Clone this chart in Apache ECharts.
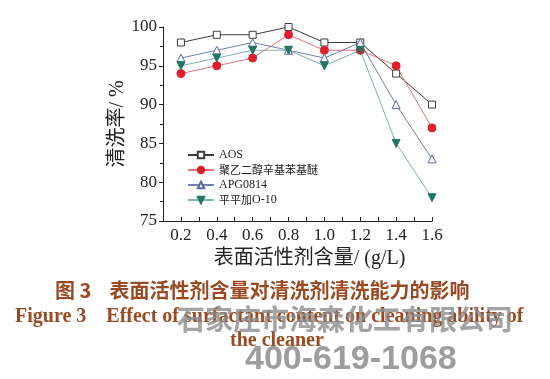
<!DOCTYPE html>
<html><head><meta charset="utf-8">
<script src="https://cdn.jsdelivr.net/npm/echarts@6/dist/echarts.min.js"></script>
<style>html,body{margin:0;padding:0;background:#fff}#c{width:550px;height:379px}</style>
</head><body><div id="c"></div>
<script>
const xValues = [0.2, 0.4, 0.6, 0.8, 1.0, 1.2, 1.4, 1.6];
const seriesNames = ['AOS', '聚乙二醇辛基苯基醚', 'APG0814', '平平加O-10'];
const aos = [98, 99, 99, 100, 98, 98, 94, 90];
const peg = [94, 95, 96, 99, 97, 97, 95, 87];
const apg = [96, 97, 98, 97, 96, 98, 90, 83];
const ppj = [95, 96, 97, 97, 95, 97, 85, 78];
const yTicks = [75, 80, 85, 90, 95, 100];
const xTitle = '表面活性剂含量/ (g/L)';
const yTitle = '清洗率/ %';
const captionCN = '图 3    表面活性剂含量对清洗剂清洗能力的影响';
const captionEN1 = 'Figure 3    Effect of surfactant content on cleaning ability of';
const captionEN2 = 'the cleaner';
const wm1 = '石家庄市海森化工有限公司';
const wm2 = '400-619-1068';

const pairs = arr => xValues.map((x, i) => [x, arr[i]]);
const serif = "'Liberation Serif','Noto Sans CJK SC',serif";
const chart = echarts.init(document.getElementById('c'));
const styles = [
  {data: aos, symbol: 'rect', line: '#3c3c3c', mk: '#3c3c3c', fill: '#ffffff', rot: 0, size: 7},
  {data: peg, symbol: 'circle', line: '#e8737c', mk: '#e01e2b', fill: '#e01e2b', rot: 0, size: 8},
  {data: apg, symbol: 'triangle', line: '#6f7fae', mk: '#5a6aa3', fill: '#ffffff', rot: 0, size: 8},
  {data: ppj, symbol: 'triangle', line: '#7fb3aa', mk: '#237564', fill: '#237564', rot: 180, size: 8}
];
// split legend names into CJK / latin runs for mixed sizes
const legendFmt = name => name.replace(/([\u4e00-\u9fff]+)|([^\u4e00-\u9fff]+)/g,
  (m, cjk, lat) => cjk ? '{cn|' + cjk + '}' : '{en|' + lat + '}');
chart.setOption({
  animation: false,
  backgroundColor: '#fff',
  grid: {left: 163, top: 27, right: 118, bottom: 158},
  legend: {
    orient: 'vertical', left: 182, top: 144, itemWidth: 26, itemHeight: 8, itemGap: 3, itemSize: 8,
    formatter: legendFmt,
    textStyle: {fontFamily: serif, fontSize: 12, color: '#222', lineHeight: 12,
      rich: {cn: {fontFamily: "'Noto Sans CJK SC'", fontSize: 11, color: '#222'},
             en: {fontFamily: "'Liberation Serif'", fontSize: 12, color: '#222'}}},
    data: seriesNames
  },
  xAxis: {
    type: 'value', min: 0.1, max: 1.6, interval: 0.1,
    name: xTitle, nameLocation: 'middle', nameGap: 28,
    nameTextStyle: {fontFamily: serif, fontSize: 20, color: '#222', padding: [0, 0, 0, 24]},
    axisLine: {lineStyle: {color: '#222', width: 1}},
    axisTick: {inside: true, length: 4, lineStyle: {color: '#222'}},
    axisLabel: {fontFamily: serif, fontSize: 17, color: '#222', margin: 6,
      formatter: v => (Math.round(v * 10) % 2 === 0 ? v.toFixed(1) : '')},
    splitLine: {show: false}
  },
  yAxis: {
    type: 'value', min: yTicks[0], max: yTicks[yTicks.length - 1], interval: 5,
    name: yTitle, nameLocation: 'middle', nameGap: 32,
    nameTextStyle: {fontFamily: serif, fontSize: 20, color: '#222'},
    axisLine: {show: true, lineStyle: {color: '#222', width: 1}},
    axisTick: {length: 4, lineStyle: {color: '#222'}},
    minorTick: {show: true, splitNumber: 2, length: 3, lineStyle: {color: '#222'}},
    axisLabel: {fontFamily: serif, fontSize: 17, color: '#222', margin: 6},
    splitLine: {show: false}
  },
  series: styles.map((s, i) => ({
    name: seriesNames[i], type: 'line', data: pairs(s.data),
    symbol: s.symbol, symbolSize: s.size, symbolRotate: s.rot,
    lineStyle: {color: s.line, width: 1},
    itemStyle: {color: s.fill, borderColor: s.mk, borderWidth: 1}
  })),
  graphic: [
    {type: 'text', left: 55, top: 280, style: {text: captionCN, font: "bold 20px 'Noto Sans CJK SC'", fill: '#9a4a22'}},
    {type: 'text', left: 15, top: 307, style: {text: captionEN1, font: "bold 20px 'Liberation Serif'", fill: '#9a4a22'}},
    {type: 'text', left: 230, top: 331, style: {text: captionEN2, font: "bold 20px 'Liberation Serif'", fill: '#9a4a22'}},
    {type: 'text', left: 177, top: 305, style: {text: wm1, font: "bold 28px 'Noto Sans CJK SC'", fill: 'rgba(140,140,140,0.8)'}},
    {type: 'text', left: 245, top: 343, style: {text: wm2, font: "bold 34px 'Liberation Sans'", fill: 'rgba(140,140,140,0.85)'}}
  ]
});
</script></body></html>
